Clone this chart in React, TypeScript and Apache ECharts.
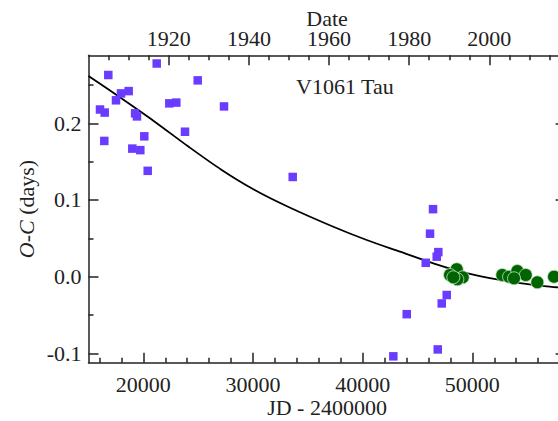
import React, { useEffect, useRef } from "react";
import * as echarts from "echarts";

const FONT = "'Liberation Serif', 'Times New Roman', serif";
const AXIS_COLOR = "#222";

// Photographic / visual timings (purple squares): [JD - 2400000, O-C days]
const purpleJD = [21219, 16806, 24957, 17963, 18664, 17508, 22368, 23006, 16049, 16477, 19250, 19420, 23799, 20088, 16441, 18994, 19723, 20398, 27355, 33620, 46413, 46139, 46896, 46750, 45747, 47662, 47206, 44015, 46842, 42793];
const purpleOC = [0.278, 0.263, 0.256, 0.239, 0.242, 0.230, 0.226, 0.227, 0.218, 0.214, 0.213, 0.209, 0.189, 0.183, 0.177, 0.167, 0.165, 0.138, 0.222, 0.130, 0.088, 0.056, 0.032, 0.026, 0.018, -0.024, -0.035, -0.049, -0.095, -0.104];

// CCD / photoelectric timings (green circles)
const greenJD = [48573, 47963, 49120, 48630, 48265, 52731, 53343, 54100, 54865, 53798, 55923, 57446];
const greenOC = [0.0096, 0.0021, -0.0009, -0.0035, -0.0009, 0.0021, -0.0001, 0.0073, 0.0021, -0.0022, -0.0074, -0.0001];

// Fitted ephemeris curve
const curveJD = [15000, 17991, 21036, 24073, 27109, 30155, 33191, 37322, 40367, 43403, 46440, 49485, 52521, 55558, 57692, 58500];
const curveOC = [0.2618, 0.2326, 0.2021, 0.1700, 0.1395, 0.1130, 0.0912, 0.0651, 0.0478, 0.0325, 0.0174, 0.0044, -0.0044, -0.0109, -0.0139, -0.0150];

// Tick values
const jdMajor = [20000, 30000, 40000, 50000];
const jdMinor = [16000, 18000, 22000, 24000, 26000, 28000, 32000, 34000, 36000, 38000, 42000, 44000, 46000, 48000, 52000, 54000, 56000, 58000];
const yearMajor = [1920, 1940, 1960, 1980, 2000];
const yearMinor = [1905, 1910, 1915, 1925, 1930, 1935, 1945, 1950, 1955, 1965, 1970, 1975, 1985, 1990, 1995, 2005, 2010, 2015];
const ocMajor = [-0.1, 0.0, 0.1, 0.2];
const ocMinor = [-0.05, 0.05, 0.15, 0.25];

const X_MIN = 15000;
const X_MAX = 58500;
const Y_MIN = -0.1123;
const Y_MAX = 0.2887;

const yearToJD = (y: number) => 15020.31 + (y - 1900) * 365.2422;
const jdToYear = (jd: number) => Math.round(1900 + (jd - 15020.31) / 365.2422);

export default function App() {
  const ref = useRef<HTMLDivElement>(null);
  useEffect(() => {
    if (!ref.current) return;
    const chart = echarts.init(ref.current, undefined, { renderer: "svg" });
    const lineStyle = { color: AXIS_COLOR, width: 1.5 };
    const baseX = {
      type: "value" as const,
      min: X_MIN,
      max: X_MAX,
      splitLine: { show: false },
    };
    const baseY = {
      type: "value" as const,
      min: Y_MIN,
      max: Y_MAX,
      splitLine: { show: false },
    };
    const txt = { fontSize: 22, fontFamily: FONT, color: AXIS_COLOR, lineHeight: 22 };
    const tight = { ...txt, lineHeight: 16 };
    chart.setOption({
      animation: false,
      backgroundColor: "#fff",
      grid: { left: 88.5, top: 55.3, right: 34.4, bottom: 58.3, containLabel: false, outerBoundsMode: "none" },
      xAxis: [
        {
          ...baseX,
          position: "bottom",
          axisLine: { show: true, onZero: false, lineStyle },
          axisTick: { show: true, inside: true, length: 10, lineStyle, customValues: jdMajor },
          axisLabel: { show: true, customValues: jdMajor, margin: 11, ...txt, formatter: (v: number) => String(v) },
          name: "JD - 2400000",
          nameLocation: "middle",
          nameGap: 34,
          nameMoveOverlap: false,
          nameTextStyle: { ...txt },
        },
        {
          ...baseX,
          position: "bottom",
          axisLine: { show: false, onZero: false },
          axisTick: { show: true, inside: true, length: 5, lineStyle, customValues: jdMinor },
          axisLabel: { show: false },
        },
        {
          ...baseX,
          position: "top",
          axisLine: { show: true, onZero: false, lineStyle },
          axisTick: { show: true, inside: true, length: 10, lineStyle, customValues: yearMajor.map(yearToJD) },
          axisLabel: { show: true, customValues: yearMajor.map(yearToJD), margin: 9, ...tight, formatter: (v: number) => String(jdToYear(v)) },
          name: "Date",
          nameLocation: "middle",
          nameGap: 29,
          nameMoveOverlap: false,
          nameTextStyle: { ...tight },
        },
        {
          ...baseX,
          position: "top",
          axisLine: { show: false, onZero: false },
          axisTick: { show: true, inside: true, length: 5, lineStyle, customValues: yearMinor.map(yearToJD) },
          axisLabel: { show: false },
        },
      ],
      yAxis: [
        {
          ...baseY,
          position: "left",
          axisLine: { show: true, onZero: false, lineStyle },
          axisTick: { show: true, inside: true, length: 10, lineStyle, customValues: ocMajor },
          axisLabel: { show: true, customValues: ocMajor, margin: 7, ...txt, formatter: (v: number) => v.toFixed(1) },
          name: "{i|O-C} (days)",
          nameLocation: "middle",
          nameGap: 51,
          nameRotate: 90,
          nameMoveOverlap: false,
          nameTextStyle: {
            ...txt,
            rich: { i: { fontStyle: "italic", fontSize: 22, fontFamily: FONT, color: AXIS_COLOR, lineHeight: 22 } },
          },
        },
        {
          ...baseY,
          position: "left",
          axisLine: { show: false, onZero: false },
          axisTick: { show: true, inside: true, length: 5, lineStyle, customValues: ocMinor },
          axisLabel: { show: false },
        },
        {
          ...baseY,
          position: "right",
          axisLine: { show: true, onZero: false, lineStyle },
          axisTick: { show: true, inside: true, length: 10, lineStyle, customValues: ocMajor },
          axisLabel: { show: false },
        },
        {
          ...baseY,
          position: "right",
          axisLine: { show: false, onZero: false },
          axisTick: { show: true, inside: true, length: 5, lineStyle, customValues: ocMinor },
          axisLabel: { show: false },
        },
      ],
      graphic: [
        {
          type: "text",
          x: 296,
          y: 86,
          style: { text: "V1061 Tau", fontSize: 22, fontFamily: FONT, fill: AXIS_COLOR, verticalAlign: "middle", align: "left" },
        },
      ],
      series: [
        {
          type: "line",
          xAxisIndex: 0,
          yAxisIndex: 0,
          data: curveJD.map((x, i) => [x, curveOC[i]]),
          smooth: 0.3,
          showSymbol: false,
          lineStyle: { color: "#000", width: 1.8 },
          z: 2,
        },
        {
          type: "scatter",
          xAxisIndex: 0,
          yAxisIndex: 0,
          data: purpleJD.map((x, i) => [x, purpleOC[i]]),
          symbol: "rect",
          symbolSize: 8.5,
          itemStyle: { color: "#6a3cff", opacity: 1 },
          z: 3,
        },
        {
          type: "scatter",
          xAxisIndex: 0,
          yAxisIndex: 0,
          data: greenJD.map((x, i) => [x, greenOC[i]]),
          symbol: "circle",
          symbolSize: 13,
          itemStyle: { color: "#006400", borderColor: "rgba(200,230,200,0.8)", borderWidth: 1, opacity: 1 },
          z: 4,
        },
      ],
    });
    return () => chart.dispose();
  }, []);
  return (
    <div style={{ position: "fixed", left: 0, top: 0, width: 558, height: 421, overflow: "hidden", background: "#fff" }}>
      <div ref={ref} style={{ width: 600, height: 421 }} />
    </div>
  );
}
